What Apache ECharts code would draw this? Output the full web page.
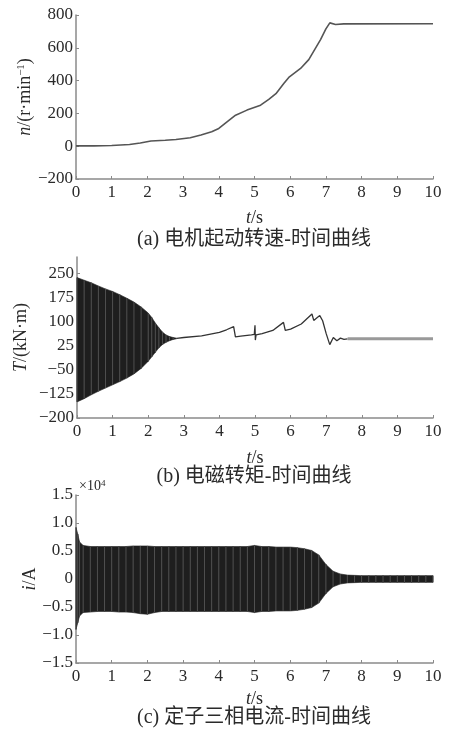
<!DOCTYPE html>
<html>
<head>
<meta charset="utf-8">
<script src="https://cdn.jsdelivr.net/npm/echarts@6/dist/echarts.min.js"></script>
<style>
html, body { margin: 0; padding: 0; background: #fff; }
#main { width: 451px; height: 733px; }
</style>
</head>
<body>
<div id="main"></div>
<script>
// 横轴 t/s
var timeTicks = [0, 1, 2, 3, 4, 5, 6, 7, 8, 9, 10]

// (a) 转速 n/(r·min-1)
var speedTicks = [-200, 0, 200, 400, 600, 800]
var speedData = [
  [0, 2], [0.5, 2], [1, 4], [1.5, 10], [1.8, 20], [2.1, 32], [2.5, 36], [2.8, 41],
  [3.2, 52], [3.5, 68], [3.8, 88], [4.0, 108], [4.23, 148], [4.47, 189], [4.79, 220],
  [5.17, 250], [5.4, 285], [5.6, 320], [5.82, 382], [5.96, 419], [6.29, 474],
  [6.52, 528], [6.85, 650], [7.0, 715], [7.11, 752], [7.27, 742], [7.5, 746], [10, 747]
]

// (b) 电磁转矩 T/(kN·m)：振荡包络 [t, 上包络, 下包络] 和平均曲线
var torqueTicks = [-200, -125, -50, 25, 100, 175, 250]
var torqueEnvelope = [
  [0, 236, -150], [0.2, 228, -140], [0.4, 220, -128], [0.6, 210, -117],
  [0.8, 201, -107], [1.0, 193, -97], [1.2, 183, -87], [1.4, 172, -76],
  [1.6, 160, -63], [1.8, 145, -46], [2.0, 126, -24], [2.1, 112, -10],
  [2.2, 95, 4], [2.3, 80, 18], [2.4, 67, 28], [2.5, 58, 35], [2.6, 53, 40],
  [2.7, 50, 44], [2.8, 48, 46]
]
var torqueLine = [
  [2.8, 47], [3.0, 50], [3.5, 55], [4.0, 66], [4.2, 74], [4.4, 84], [4.45, 52],
  [4.6, 54], [4.9, 58], [4.98, 60], [5.0, 88], [5.01, 42], [5.03, 58], [5.2, 62],
  [5.5, 72], [5.8, 97], [5.85, 72], [6.0, 76], [6.3, 92], [6.6, 123], [6.65, 103],
  [6.75, 112], [6.82, 118], [6.9, 102], [7.0, 62], [7.1, 28], [7.2, 50], [7.3, 40],
  [7.4, 48], [7.5, 44], [7.6, 46]
]
var torqueSteady = [[7.6, 46], [10, 46]]

// (c) 定子三相电流 i/A (×10^4)：包络 [t, 上包络, 下包络]
var currentTicks = [-1.5, -1.0, -0.5, 0, 0.5, 1.0, 1.5]
var currentEnvelope = [
  [0, 0.92, -0.9], [0.05, 0.8, -0.78], [0.1, 0.66, -0.66], [0.2, 0.6, -0.6],
  [0.4, 0.58, -0.59], [0.6, 0.58, -0.58], [0.8, 0.58, -0.58], [1.0, 0.58, -0.58],
  [1.2, 0.58, -0.59], [1.4, 0.58, -0.59], [1.6, 0.59, -0.6], [1.8, 0.59, -0.62],
  [2.0, 0.59, -0.63], [2.2, 0.58, -0.6], [2.4, 0.58, -0.58], [2.6, 0.58, -0.58],
  [2.8, 0.58, -0.58], [3.0, 0.58, -0.58], [3.2, 0.58, -0.58], [3.4, 0.58, -0.58],
  [3.6, 0.58, -0.58], [3.8, 0.58, -0.58], [4.0, 0.58, -0.58], [4.2, 0.58, -0.58],
  [4.4, 0.58, -0.58], [4.6, 0.58, -0.58], [4.8, 0.58, -0.58], [5.0, 0.6, -0.6],
  [5.2, 0.58, -0.58], [5.4, 0.58, -0.58], [5.6, 0.57, -0.57], [5.8, 0.57, -0.57],
  [6.0, 0.57, -0.57], [6.2, 0.56, -0.56], [6.4, 0.54, -0.54], [6.6, 0.51, -0.51],
  [6.8, 0.43, -0.43], [7.0, 0.26, -0.26], [7.2, 0.14, -0.14], [7.4, 0.09, -0.09],
  [7.6, 0.07, -0.07], [7.8, 0.065, -0.065], [8.0, 0.06, -0.06], [8.2, 0.06, -0.06],
  [8.4, 0.06, -0.06], [8.6, 0.06, -0.06], [8.8, 0.06, -0.06], [9.0, 0.06, -0.06],
  [9.2, 0.06, -0.06], [9.4, 0.06, -0.06], [9.6, 0.06, -0.06], [9.8, 0.06, -0.06],
  [10, 0.06, -0.06]
]

var captions = ['(a) 电机起动转速-时间曲线', '(b) 电磁转矩-时间曲线', '(c) 定子三相电流-时间曲线']

var FONT = '"Liberation Serif", "Noto Sans CJK SC", serif'
var TEXT = '#2a2a2a'
var AXIS = '#8a8a8a'

function minus(v) {
  return String(v).replace('-', '\u2212')
}

function xAxisOf(i, nameGap) {
  return {
    type: 'value',
    gridIndex: i,
    min: 0,
    max: 10,
    interval: 1,
    name: '{i|t}/s',
    nameLocation: 'middle',
    nameGap: nameGap,
    nameMoveOverlap: false,
    nameTextStyle: {
      color: TEXT,
      fontFamily: FONT,
      fontSize: 18,
      rich: { i: { fontStyle: 'italic', fontFamily: FONT, fontSize: 18, color: TEXT } },
    },
    axisLine: { onZero: false, lineStyle: { color: AXIS, width: 1.5 } },
    axisTick: { inside: true, length: 3, lineStyle: { color: AXIS } },
    axisLabel: {
      color: TEXT,
      fontFamily: FONT,
      fontSize: 17,
      margin: 5,
      customValues: timeTicks,
    },
    splitLine: { show: false },
  }
}

function yAxisBase(i, name, ticks, fmt, nameGap) {
  return {
    type: 'value',
    gridIndex: i,
    name: name,
    nameLocation: 'middle',
    nameRotate: 90,
    nameGap: nameGap,
    nameMoveOverlap: false,
    nameTextStyle: {
      color: TEXT,
      fontFamily: FONT,
      fontSize: 18,
      rich: {
        i: { fontStyle: 'italic', fontFamily: FONT, fontSize: 18, color: TEXT },
        s: { fontFamily: FONT, fontSize: 11, color: TEXT, verticalAlign: 'top' },
      },
    },
    axisLine: { onZero: false, lineStyle: { color: AXIS, width: 1.5 } },
    axisTick: { inside: true, length: 3, lineStyle: { color: AXIS }, customValues: ticks },
    axisLabel: {
      color: TEXT,
      fontFamily: FONT,
      fontSize: 17,
      margin: 3,
      customValues: ticks,
      formatter: fmt,
    },
    splitLine: { show: false },
  }
}

// 振荡区：相邻包络点之间填充，并在每个采样点画竖线
function bandRender(env) {
  return function (params, api) {
    var k = params.dataIndex
    var children = []
    if (k < env.length - 1) {
      var a = env[k]
      var b = env[k + 1]
      children.push({
        type: 'polygon',
        shape: {
          points: [
            api.coord([a[0], a[1]]),
            api.coord([b[0], b[1]]),
            api.coord([b[0], b[2]]),
            api.coord([a[0], a[2]]),
          ],
        },
        style: { fill: '#1e1e1e', stroke: '#1e1e1e', lineWidth: 0.6 },
      })
    }
    var top = api.coord([env[k][0], env[k][1]])
    var bot = api.coord([env[k][0], env[k][2]])
    children.push({
      type: 'line',
      shape: { x1: top[0], y1: top[1], x2: bot[0], y2: bot[1] },
      style: { stroke: '#505050', lineWidth: 1 },
    })
    return { type: 'group', children: children }
  }
}

var chart = echarts.init(document.getElementById('main'), null, { renderer: 'canvas' })

var yA = yAxisBase(0, '{i|n}/(r·min{s|\u22121})', speedTicks, minus, 42)
yA.min = -200
yA.max = 800
yA.interval = 200

var yB = yAxisBase(1, '{i|T}/(kN·m)', torqueTicks, minus, 47)
yB.min = -200
yB.max = 300

var yC = yAxisBase(2, '{i|i}/A', currentTicks, function (v) {
  return v === 0 ? '0' : minus(v.toFixed(1))
}, 37)
yC.min = -1.5
yC.max = 1.5
yC.interval = 0.5

chart.setOption({
  animation: false,
  backgroundColor: '#fff',
  grid: [
    { left: 76, top: 15, width: 357, height: 164 },
    { left: 77, top: 257, width: 356, height: 161 },
    { left: 76, top: 495, width: 357, height: 168 },
  ],
  xAxis: [xAxisOf(0, 30), xAxisOf(1, 31), xAxisOf(2, 27)],
  yAxis: [yA, yB, yC],
  graphic: [
    { type: 'text', x: 254, y: 240, style: { text: captions[0], font: '20px ' + FONT, fill: TEXT, align: 'center', verticalAlign: 'middle' } },
    { type: 'text', x: 254, y: 477, style: { text: captions[1], font: '20px ' + FONT, fill: TEXT, align: 'center', verticalAlign: 'middle' } },
    { type: 'text', x: 254, y: 718, style: { text: captions[2], font: '20px ' + FONT, fill: TEXT, align: 'center', verticalAlign: 'middle' } },
    {
      type: 'text',
      x: 79,
      y: 479,
      style: {
        text: '×10{s|4}',
        font: '14px ' + FONT,
        fill: TEXT,
        rich: { s: { fontSize: 9, fontFamily: FONT, fill: TEXT, verticalAlign: 'top' } },
      },
    },
  ],
  series: [
    {
      type: 'line',
      xAxisIndex: 0,
      yAxisIndex: 0,
      data: speedData,
      showSymbol: false,
      lineStyle: { color: '#555', width: 1.6 },
    },
    {
      type: 'custom',
      xAxisIndex: 1,
      yAxisIndex: 1,
      data: torqueEnvelope,
      encode: { x: 0, y: [1, 2] },
      renderItem: bandRender(torqueEnvelope),
    },
    {
      type: 'line',
      xAxisIndex: 1,
      yAxisIndex: 1,
      data: torqueLine,
      showSymbol: false,
      lineStyle: { color: '#333', width: 1.3 },
    },
    {
      type: 'line',
      xAxisIndex: 1,
      yAxisIndex: 1,
      data: torqueSteady,
      showSymbol: false,
      lineStyle: { color: '#999', width: 3 },
    },
    {
      type: 'custom',
      xAxisIndex: 2,
      yAxisIndex: 2,
      data: currentEnvelope,
      encode: { x: 0, y: [1, 2] },
      renderItem: bandRender(currentEnvelope),
    },
  ],
})
</script>
</body>
</html>
